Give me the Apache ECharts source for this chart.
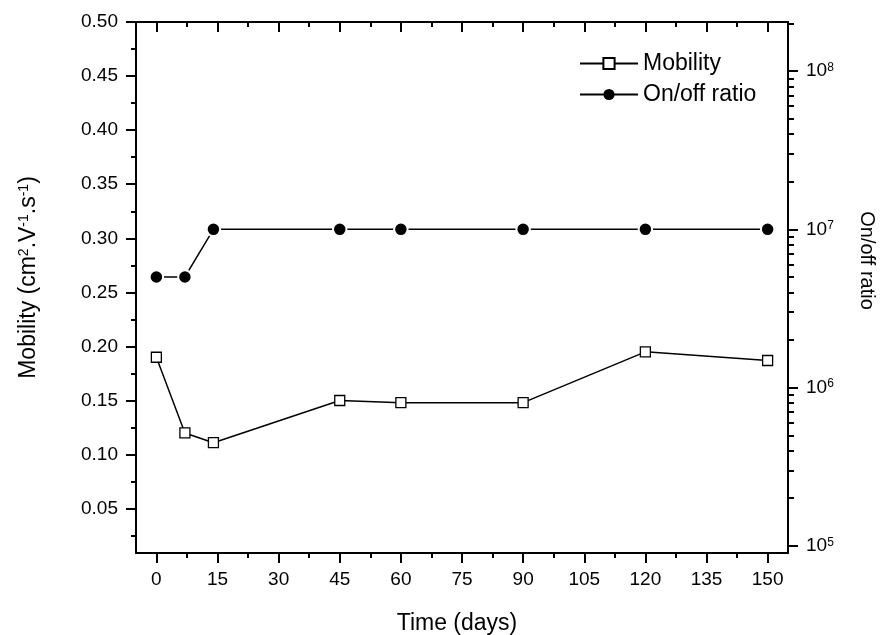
<!DOCTYPE html>
<html>
<head>
<meta charset="utf-8">
<script src="https://cdn.jsdelivr.net/npm/echarts@6/dist/echarts.min.js"></script>
<style>
  html, body { margin: 0; padding: 0; background: #fff; }
  #main { width: 881px; height: 635px; }
</style>
</head>
<body>
<div id="main"></div>
<script>
// data
var timeDays = [0, 7, 14, 45, 60, 90, 120, 150];
var mobility = [0.190, 0.120, 0.111, 0.150, 0.148, 0.148, 0.195, 0.187];
var onOffRatio = [5e6, 5e6, 1e7, 1e7, 1e7, 1e7, 1e7, 1e7];

// tick labels
var timeTicks = [0, 15, 30, 45, 60, 75, 90, 105, 120, 135, 150];
var timeMinorTicks = [7.5, 22.5, 37.5, 52.5, 67.5, 82.5, 97.5, 112.5, 127.5, 142.5];
var mobilityTicks = [0.05, 0.10, 0.15, 0.20, 0.25, 0.30, 0.35, 0.40, 0.45, 0.50];
var mobilityMinorTicks = [0.025, 0.075, 0.125, 0.175, 0.225, 0.275, 0.325, 0.375, 0.425, 0.475];
var ratioDecades = [5, 6, 7, 8]; // exponents of 10

// right axis is drawn in log10 space
var ratioMinorTicks = [];
ratioDecades.forEach(function (d) {
    for (var k = 2; k <= 9; k++) ratioMinorTicks.push(d + Math.log10(k));
});

var black = '#000';
var font = "'Liberation Sans', Arial, sans-serif";
var xMin = -5, xMax = 155;
var mobMin = 0.009, mobMax = 0.5;
var ratioMin = 4.955, ratioMax = 8.31;

// an axis that only draws ticks
function tickAxis(position, min, max, values, len, inside, extra) {
    var ax = {
        type: 'value',
        position: position,
        min: min,
        max: max,
        axisLine: { show: false, onZero: false },
        axisTick: { show: true, customValues: values, length: len, inside: inside, lineStyle: { color: black, width: 2 } },
        axisLabel: { show: false },
        splitLine: { show: false }
    };
    return Object.assign(ax, extra || {});
}

var dom = document.getElementById('main');
var myChart = echarts.init(dom);

var option = {
    animation: false,
    textStyle: { fontFamily: font, color: black },
    grid: { left: 136, right: 93, top: 22, bottom: 82, containLabel: false, outerBoundsMode: 'none' },
    legend: {
        orient: 'vertical',
        left: 574,
        top: 47,
        itemWidth: 58,
        itemHeight: 14,
        itemGap: 8,
        textStyle: { fontSize: 23, color: black, fontFamily: font },
        data: [
            { name: 'Mobility' },
            { name: 'On/off ratio', itemStyle: { borderWidth: 0 } }
        ]
    },
    xAxis: [
        tickAxis('bottom', xMin, xMax, timeTicks, 10, false, {
            axisLine: { show: true, onZero: false, lineStyle: { color: black, width: 2 } },
            axisLabel: {
                show: true, customValues: timeTicks, margin: 17,
                fontSize: 19, color: black, fontFamily: font
            },
            name: 'Time (days)',
            nameLocation: 'middle',
            nameGap: 59,
            nameTextStyle: { fontSize: 23, color: black, fontFamily: font, padding: [0, 10, 0, 0] }
        }),
        tickAxis('bottom', xMin, xMax, timeMinorTicks, 5, false),
        tickAxis('top', xMin, xMax, timeTicks, 10, true, {
            axisLine: { show: true, onZero: false, lineStyle: { color: black, width: 2 } }
        }),
        tickAxis('top', xMin, xMax, timeMinorTicks, 5, true)
    ],
    yAxis: [
        {
            type: 'value',
            position: 'left',
            min: mobMin,
            max: mobMax,
            axisLine: { show: true, onZero: false, lineStyle: { color: black, width: 2 } },
            axisTick: { show: false },
            splitLine: { show: false },
            axisLabel: {
                show: true, customValues: mobilityTicks, margin: 18,
                fontSize: 19, color: black, fontFamily: font,
                formatter: function (v) { return v.toFixed(2); }
            },
            name: '{n|Mobility (cm}{s|2}{n|.V}{s|-1}{n|.s}{s|-1}{n|)}',
            nameLocation: 'middle',
            nameGap: 96,
            nameTextStyle: {
                padding: [0, 0, 0, 20],
                rich: {
                    n: { fontSize: 23, color: black, fontFamily: font },
                    s: { fontSize: 14, color: black, fontFamily: font, verticalAlign: 'top' }
                }
            }
        },
        tickAxis('left', mobMin, mobMax, mobilityTicks, 10, false),
        tickAxis('left', mobMin, mobMax, mobilityMinorTicks, 5, false),
        {
            type: 'value',
            position: 'right',
            min: ratioMin,
            max: ratioMax,
            axisLine: { show: true, onZero: false, lineStyle: { color: black, width: 2 } },
            axisTick: { show: false },
            splitLine: { show: false },
            axisLabel: {
                show: true, customValues: ratioDecades, margin: 18,
                formatter: function (v) { return '{b|10}{s|' + Math.round(v) + '}'; },
                rich: {
                    b: { fontSize: 19, color: black, fontFamily: font },
                    s: { fontSize: 12, color: black, fontFamily: font, verticalAlign: 'top' }
                }
            },
            name: 'On/off ratio',
            nameLocation: 'middle',
            nameRotate: -90,
            nameGap: 69,
            nameTextStyle: { fontSize: 20, color: black, fontFamily: font, padding: [0, 54, 0, 0] }
        },
        tickAxis('right', ratioMin, ratioMax, ratioDecades, 10, false),
        tickAxis('right', ratioMin, ratioMax, ratioMinorTicks, 6, false)
    ],
    series: [
        {
            name: 'Mobility',
            type: 'line',
            xAxisIndex: 0,
            yAxisIndex: 0,
            symbol: 'rect',
            symbolSize: 10,
            lineStyle: { color: black, width: 1.5 },
            itemStyle: { color: '#fff', borderColor: black, borderWidth: 1.3 },
            data: timeDays.map(function (t, i) { return [t, mobility[i]]; })
        },
        {
            name: 'On/off ratio',
            type: 'line',
            xAxisIndex: 0,
            yAxisIndex: 3,
            symbol: 'circle',
            symbolSize: 13.5,
            lineStyle: { color: black, width: 1.5 },
            itemStyle: { color: black, borderColor: '#fff', borderWidth: 2 },
            data: timeDays.map(function (t, i) { return [t, Math.log10(onOffRatio[i])]; })
        }
    ]
};

if (option && typeof option === 'object') {
    myChart.setOption(option, true);
}
window.addEventListener('resize', function () {
    myChart.resize();
});
</script>
</body>
</html>
